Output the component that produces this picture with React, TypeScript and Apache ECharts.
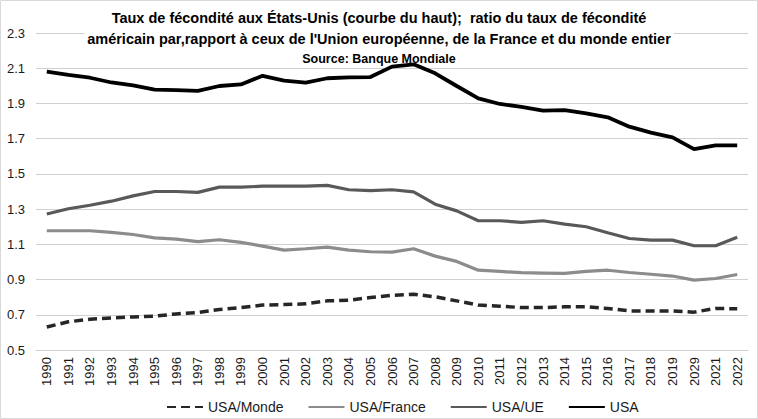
import React, { useEffect, useRef } from "react";
import * as echarts from "echarts";

const years = ["1990","1991","1992","1993","1994","1995","1996","1997","1998","1999","2000","2001","2002","2003","2004","2005","2006","2007","2008","2009","2010","2011","2012","2013","2014","2015","2016","2017","2018","2019","2029","2021","2022"];

const usaMonde = [0.631,0.66,0.675,0.682,0.688,0.692,0.705,0.713,0.73,0.741,0.755,0.758,0.762,0.779,0.783,0.798,0.81,0.817,0.802,0.779,0.755,0.749,0.741,0.741,0.745,0.745,0.736,0.722,0.722,0.722,0.715,0.736,0.734];
const usaFrance = [1.177,1.177,1.177,1.168,1.156,1.137,1.13,1.115,1.126,1.111,1.09,1.067,1.075,1.084,1.067,1.058,1.056,1.075,1.033,1.003,0.953,0.946,0.939,0.937,0.935,0.946,0.953,0.94,0.93,0.92,0.897,0.906,0.929];
const usaUE = [1.272,1.302,1.322,1.345,1.375,1.4,1.4,1.395,1.425,1.425,1.43,1.43,1.43,1.435,1.41,1.405,1.41,1.398,1.328,1.29,1.234,1.234,1.225,1.234,1.215,1.2,1.166,1.133,1.124,1.124,1.092,1.092,1.14];
const usa = [2.081,2.062,2.046,2.019,2.002,1.978,1.976,1.971,1.999,2.008,2.057,2.029,2.018,2.043,2.048,2.05,2.109,2.122,2.071,1.999,1.929,1.897,1.881,1.859,1.862,1.844,1.821,1.768,1.734,1.707,1.641,1.662,1.662];

const FONT = "'Liberation Sans', sans-serif";

export default function App() {
  const ref = useRef<HTMLDivElement>(null);
  useEffect(() => {
    const chart = echarts.init(ref.current!, null, { renderer: "svg" });
    chart.setOption({
      animation: false,
      textStyle: { fontFamily: FONT },
      title: {
        text: "Taux de fécondité aux États-Unis (courbe du haut);  ratio du taux de fécondité\naméricain par,rapport à ceux de l'Union européenne, de la France et du monde entier",
        subtext: "Source: Banque Mondiale",
        left: "center",
        top: 5,
        padding: [2, 3, 0, 3],
        itemGap: 2,
        backgroundColor: "#fff",
        textStyle: { fontFamily: FONT, fontSize: 14.5, fontWeight: "bold", color: "#000", lineHeight: 21 },
        subtextStyle: { fontFamily: FONT, fontSize: 12.5, fontWeight: "bold", color: "#000", lineHeight: 15 },
        z: 1,
      },
      graphic: [
        {
          type: "rect",
          shape: { x: 0.5, y: 0.5, width: 757, height: 418 },
          style: { fill: "none", stroke: "#d9d9d9", lineWidth: 1 },
          silent: true,
        },
      ],
      legend: {
        left: 161,
        top: 395,
        itemWidth: 36,
        itemHeight: 10,
        itemGap: 24,
        itemStyle: { opacity: 0 },
        textStyle: { fontFamily: FONT, fontSize: 14, color: "#1a1a1a" },
        data: ["USA/Monde", "USA/France", "USA/UE", "USA"],
      },
      grid: { left: 36, right: 10, top: 33, bottom: 69, containLabel: false },
      xAxis: {
        type: "category",
        data: years,
        boundaryGap: true,
        axisTick: { show: false },
        axisLine: { show: true, lineStyle: { color: "#d0d0d0", width: 1 } },
        axisLabel: { rotate: 90, interval: 0, fontFamily: FONT, fontSize: 13, color: "#1a1a1a", margin: 7 },
      },
      yAxis: {
        type: "value",
        min: 0.5,
        max: 2.3,
        interval: 0.2,
        axisLine: { show: false },
        axisTick: { show: false },
        axisLabel: { fontFamily: FONT, fontSize: 13, color: "#1a1a1a", margin: 11, formatter: (v: number) => v.toFixed(1) },
        splitLine: { lineStyle: { color: "#d0d0d0", width: 1 } },
      },
      series: [
        {
          name: "USA/Monde", type: "line", data: usaMonde, symbol: "none", z: 3,
          lineStyle: { color: "#262626", width: 3.5, type: [9, 5] }, itemStyle: { color: "#262626" },
        },
        {
          name: "USA/France", type: "line", data: usaFrance, symbol: "none", z: 3,
          lineStyle: { color: "#8c8c8c", width: 3.2 }, itemStyle: { color: "#8c8c8c" },
        },
        {
          name: "USA/UE", type: "line", data: usaUE, symbol: "none", z: 3,
          lineStyle: { color: "#595959", width: 3.2 }, itemStyle: { color: "#595959" },
        },
        {
          name: "USA", type: "line", data: usa, symbol: "none", z: 3,
          lineStyle: { color: "#000000", width: 3.8 }, itemStyle: { color: "#000000" },
        },
      ],
    });
    return () => chart.dispose();
  }, []);
  return <div ref={ref} style={{ position: "fixed", left: 0, top: 0, width: 758, height: 419, background: "#fff" }} />;
}
